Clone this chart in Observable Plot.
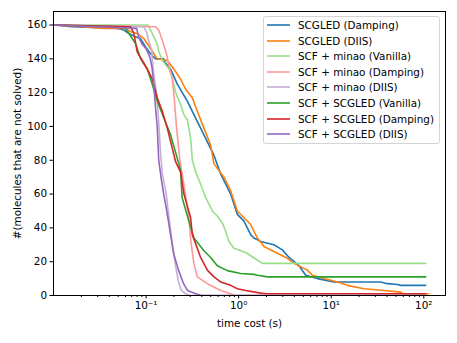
<!DOCTYPE html>
<html><head><meta charset="utf-8">
<script src="https://cdn.jsdelivr.net/npm/d3@7"></script>
<script src="https://cdn.jsdelivr.net/npm/@observablehq/plot@0.6"></script>
<style>
body{margin:0;background:#fff;font-family:"DejaVu Sans",sans-serif;}
#wrap{position:relative;width:457px;height:343px;}
#legend{position:absolute;left:263px;top:16px;width:177px;height:128px;border:1px solid #d4d4d4;border-radius:3px;background:rgba(255,255,255,0.8);box-sizing:border-box;font-size:10.4px;color:#000;}
.item{position:absolute;left:3px;height:14px;display:flex;align-items:center;white-space:nowrap;}
.item svg{margin-right:8px;}
</style></head>
<body><div id="wrap"><div id="legend"></div></div>
<script>
const seriesNames = ["SCGLED (Damping)","SCGLED (DIIS)","SCF + minao (Vanilla)","SCF + minao (Damping)","SCF + minao (DIIS)","SCF + SCGLED (Vanilla)","SCF + SCGLED (Damping)","SCF + SCGLED (DIIS)"];
const seriesColors = ["#1f77b4","#ff7f0e","#98df8a","#ff9896","#c5b0d5","#2ca02c","#d62728","#9467bd"];

// [time cost (s), #molecules not solved]
const scgledDamping = [[0.01,160],[0.0157,159],[0.05,158],[0.0575,157],[0.0652,155],[0.077,153],[0.0872,152],[0.0988,147],[0.1119,143],[0.1267,140],[0.1557,140],[0.16,138],[0.184,134],[0.2175,125],[0.2788,115],[0.3288,107],[0.4217,95],[0.5407,83],[0.6387,72],[0.82,60],[0.968,48],[1.141,44],[1.35,36],[1.46,34],[1.73,32],[2.4,30],[2.97,27],[3.5,22.5],[4.3,18.6],[4.49,17.6],[5.3,12],[7.1,10],[10.7,8],[34.3,8],[40.5,7],[52,6.5],[56.4,6],[105,6]];
const scgledDiis = [[0.01,160],[0.0211,159],[0.0347,158],[0.06,158],[0.068,156],[0.0803,155],[0.0947,152],[0.1119,146],[0.1321,140],[0.1695,139],[0.1999,134],[0.236,128],[0.2674,122],[0.3157,117],[0.3578,109],[0.4217,99],[0.498,89],[0.5407,78],[0.6934,70],[0.8193,62],[0.9681,50],[1.141,46],[1.348,42],[1.593,34],[1.877,29],[2.62,25],[3.36,22],[3.96,19],[5.53,15],[6.26,12],[8.36,10],[11.67,8],[14.97,6],[22.6,4],[37.2,3],[56.4,2],[60,1],[113,1]];
const minaoVanilla = [[0.01,160],[0.105,160],[0.1119,157],[0.1214,153],[0.1317,149],[0.1376,144],[0.15,139],[0.177,134],[0.192,129],[0.209,120],[0.236,113],[0.256,107],[0.279,104],[0.303,93],[0.316,80],[0.343,73],[0.388,66],[0.44,58],[0.52,50],[0.588,47],[0.666,43],[0.723,38],[0.786,32],[0.89,28],[1.19,25.5],[1.35,23.5],[1.53,21.6],[1.8,19],[105,19]];
const minaoDamping = [[0.01,160],[0.1267,159],[0.1368,157],[0.1497,151],[0.166,143],[0.1766,136],[0.192,128],[0.1999,119],[0.2137,99],[0.2318,80],[0.2557,66],[0.2898,46],[0.302,34],[0.328,19],[0.358,11],[0.459,7],[0.639,3],[0.819,1],[0.93,0],[105,0]];
const minaoDiis = [[0.01,160],[0.094,159],[0.101,156],[0.108,150],[0.115,145],[0.119,134],[0.126,125],[0.132,115],[0.138,100],[0.143,85],[0.15,72],[0.165,60],[0.177,46],[0.193,30],[0.209,17],[0.224,8],[0.241,3],[0.267,1],[0.30,0],[105,0]];
const scgledVanilla = [[0.01,160],[0.055,159],[0.06,158],[0.0709,152],[0.077,149],[0.0872,140],[0.103,134],[0.1167,125],[0.1321,115],[0.1557,105],[0.184,95],[0.2175,81],[0.236,74],[0.245,58],[0.2898,44],[0.3288,34],[0.4217,26.5],[0.498,22.5],[0.5884,17.6],[0.7546,14.7],[1.051,13],[1.464,12.5],[1.6,12],[2.04,11],[105,11]];
const scfScgledDamping = [[0.01,160],[0.068,159],[0.0738,155],[0.0803,144],[0.091,139],[0.103,134],[0.1167,128],[0.1321,117],[0.1497,109],[0.1695,99],[0.192,87],[0.209,79],[0.236,73],[0.2565,60],[0.3027,46],[0.3157,36],[0.3884,22.5],[0.4589,15],[0.5407,11],[0.6387,8],[0.8193,6],[0.9681,4],[1.19,3],[1.73,1.4],[2.0,1],[105,1]];
const scfScgledDiis = [[0.01,160],[0.079,158],[0.083,153],[0.09,149],[0.1,146],[0.11,141],[0.116,135],[0.121,125],[0.127,110],[0.132,100],[0.137,80],[0.145,70],[0.155,60],[0.165,52],[0.184,36],[0.198,25],[0.224,15],[0.254,7],[0.28,3],[0.343,1],[0.40,0],[105,0]];

const majorTicksX = [0.1, 1, 10, 100];
const majorTickLabelsX = ["10\u207B\u00B9", "10\u2070", "10\u00B9", "10\u00B2"];
const ticksY = [0, 20, 40, 60, 80, 100, 120, 140, 160];

const allSeries = [scgledDamping, scgledDiis, minaoVanilla, minaoDamping, minaoDiis, scgledVanilla, scfScgledDamping, scfScgledDiis];
const rows = [];
allSeries.forEach((s, i) => s.forEach(([t, n]) => rows.push({series: seriesNames[i], t, n})));

const xDomain = [0.01, 171.6];
const minorTicks = [];
for (const d of [0.01, 0.1, 1, 10, 100]) for (let k = 2; k <= 9; k++) { const v = d * k; if (v > xDomain[0] && v < xDomain[1]) minorTicks.push(v); }

const chart = Plot.plot({
  width: 457, height: 343,
  marginLeft: 53, marginRight: 12, marginTop: 11, marginBottom: 48,
  style: {fontFamily: "DejaVu Sans, sans-serif", fontSize: "10.4px", color: "#000", background: "white", overflow: "visible"},
  x: {type: "log", domain: xDomain},
  y: {domain: [0, 168]},
  color: {domain: seriesNames, range: seriesColors},
  marks: [
    Plot.line(rows, {x: "t", y: "n", z: "series", stroke: "series", strokeWidth: 1.6, clip: true}),
    Plot.frame({stroke: "#000", strokeWidth: 1}),
    Plot.axisX({ticks: minorTicks, tickSize: 2, tickFormat: () => "", label: null, stroke: "#000"}),
    Plot.axisX({ticks: majorTicksX, tickSize: 3.5, tickPadding: 3,
      tickFormat: d => majorTickLabelsX[majorTicksX.indexOf(d)],
      label: "time cost (s)", labelAnchor: "center", labelArrow: "none", labelOffset: 31, stroke: "#000"}),
    Plot.axisY({ticks: ticksY, tickSize: 3.5, tickPadding: 3,
      label: "#(molecules that are not solved)", labelAnchor: "center", labelArrow: "none", labelOffset: 40, stroke: "#000"})
  ]
});
document.getElementById("wrap").prepend(chart);

const legend = document.getElementById("legend");
seriesNames.forEach((name, i) => {
  const item = document.createElement("div");
  item.className = "item";
  item.style.top = (1 + i * 15.6) + "px";
  item.innerHTML = `<svg width="23" height="4"><line x1="0" y1="2" x2="23" y2="2" stroke="${seriesColors[i]}" stroke-width="1.6"/></svg><span>${name}</span>`;
  legend.appendChild(item);
});
</script>
</body></html>
